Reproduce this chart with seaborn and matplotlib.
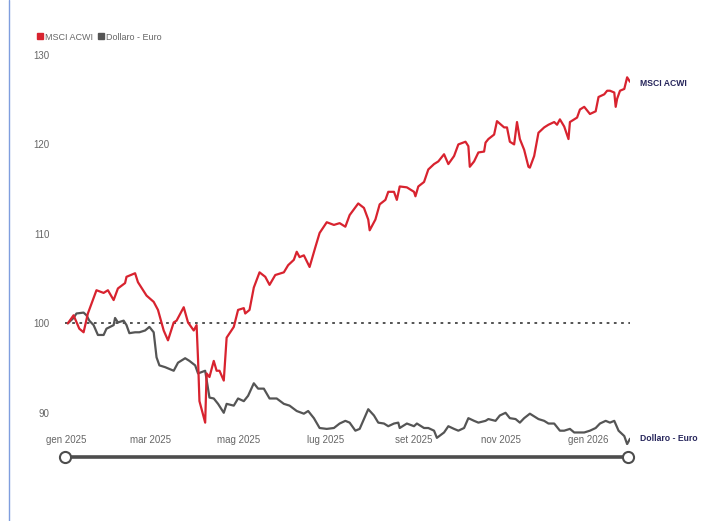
import pandas as pd
import numpy as np
import matplotlib.pyplot as plt
import seaborn as sns
from matplotlib.lines import Line2D

# MSCI ACWI (rebased to 100)
acwi_dates = [
    "2025-01-02", "2025-01-06", "2025-01-10", "2025-01-13", "2025-01-16", "2025-01-22",
    "2025-01-27", "2025-01-30", "2025-02-03", "2025-02-06", "2025-02-11", "2025-02-12",
    "2025-02-18", "2025-02-20", "2025-02-26", "2025-03-03", "2025-03-06", "2025-03-10",
    "2025-03-13", "2025-03-17", "2025-03-19", "2025-03-24", "2025-03-27", "2025-03-31",
    "2025-04-02", "2025-04-03", "2025-04-04", "2025-04-08", "2025-04-09", "2025-04-11",
    "2025-04-14", "2025-04-16", "2025-04-18", "2025-04-21", "2025-04-23", "2025-04-28",
    "2025-05-01", "2025-05-05", "2025-05-06", "2025-05-09", "2025-05-12", "2025-05-16",
    "2025-05-20", "2025-05-23", "2025-05-27", "2025-06-02", "2025-06-05", "2025-06-09",
    "2025-06-11", "2025-06-13", "2025-06-16", "2025-06-20", "2025-06-24", "2025-06-27",
    "2025-07-02", "2025-07-07", "2025-07-11", "2025-07-15", "2025-07-18", "2025-07-24",
    "2025-07-28", "2025-07-31", "2025-08-01", "2025-08-05", "2025-08-08", "2025-08-12",
    "2025-08-14", "2025-08-18", "2025-08-20", "2025-08-22", "2025-08-27", "2025-09-01",
    "2025-09-02", "2025-09-04", "2025-09-08", "2025-09-11", "2025-09-15", "2025-09-18",
    "2025-09-22", "2025-09-25", "2025-09-29", "2025-10-02", "2025-10-07", "2025-10-09",
    "2025-10-10", "2025-10-13", "2025-10-16", "2025-10-20", "2025-10-21", "2025-10-23",
    "2025-10-27", "2025-10-29", "2025-11-03", "2025-11-05", "2025-11-07", "2025-11-10",
    "2025-11-12", "2025-11-14", "2025-11-17", "2025-11-20", "2025-11-21", "2025-11-24",
    "2025-11-27", "2025-12-01", "2025-12-04", "2025-12-08", "2025-12-10", "2025-12-12",
    "2025-12-15", "2025-12-18", "2025-12-19", "2025-12-24", "2025-12-26", "2025-12-29",
    "2026-01-02", "2026-01-06", "2026-01-08", "2026-01-12", "2026-01-14", "2026-01-16",
    "2026-01-19", "2026-01-20", "2026-01-21", "2026-01-23", "2026-01-26", "2026-01-28",
    "2026-01-30",
]
acwi_values = [
    100.0, 100.9, 99.4, 99.0, 101.1, 103.7,
    103.4, 103.7, 102.6, 103.9, 104.5, 105.2,
    105.6, 104.6, 103.1, 102.4, 101.5, 99.2,
    98.1, 100.1, 100.3, 101.8, 100.1, 99.2,
    99.8, 96.0, 91.3, 88.9, 94.4, 94.0,
    95.8, 94.7, 94.7, 93.6, 98.4, 99.6,
    101.5, 101.7, 101.1, 101.5, 104.0, 105.7,
    105.2, 104.3, 105.4, 105.7, 106.5, 107.1,
    108.0, 107.4, 107.6, 106.3, 108.5, 110.1,
    111.3, 111.0, 111.2, 110.8, 112.1, 113.4,
    112.9, 111.6, 110.4, 111.6, 113.3, 113.8,
    114.7, 114.7, 113.8, 115.3, 115.2, 114.7,
    114.2, 115.3, 115.8, 117.2, 117.8, 118.1,
    118.9, 117.8, 118.7, 120.0, 120.3, 119.8,
    117.5, 118.1, 119.1, 119.2, 120.2, 120.6,
    121.1, 122.6, 121.9, 121.9, 120.3, 120.0,
    122.5, 120.6, 119.4, 117.5, 117.4, 118.7,
    121.3, 121.9, 122.2, 122.5, 122.2, 122.8,
    122.0, 120.6, 122.5, 123.0, 123.9, 124.2,
    123.4, 123.7, 125.3, 125.6, 126.0, 126.0,
    125.8, 124.2, 125.1, 126.0, 126.2, 127.5,
    127.0,
]

# Dollaro - Euro (rebased to 100)
usd_dates = [
    "2025-01-02", "2025-01-06", "2025-01-08", "2025-01-13", "2025-01-15", "2025-01-17",
    "2025-01-20", "2025-01-23", "2025-01-27", "2025-01-29", "2025-02-03", "2025-02-04",
    "2025-02-06", "2025-02-10", "2025-02-12", "2025-02-14", "2025-02-18", "2025-02-21",
    "2025-02-25", "2025-02-28", "2025-03-03", "2025-03-05", "2025-03-07", "2025-03-11",
    "2025-03-17", "2025-03-20", "2025-03-25", "2025-03-28", "2025-04-01", "2025-04-03",
    "2025-04-08", "2025-04-11", "2025-04-14", "2025-04-17", "2025-04-21", "2025-04-23",
    "2025-04-28", "2025-05-01", "2025-05-05", "2025-05-08", "2025-05-12", "2025-05-15",
    "2025-05-19", "2025-05-23", "2025-05-28", "2025-06-02", "2025-06-06", "2025-06-11",
    "2025-06-16", "2025-06-19", "2025-06-23", "2025-06-27", "2025-07-02", "2025-07-07",
    "2025-07-11", "2025-07-15", "2025-07-18", "2025-07-22", "2025-07-25", "2025-07-31",
    "2025-08-04", "2025-08-07", "2025-08-11", "2025-08-14", "2025-08-18", "2025-08-21",
    "2025-08-22", "2025-08-27", "2025-09-01", "2025-09-03", "2025-09-08", "2025-09-11",
    "2025-09-15", "2025-09-17", "2025-09-22", "2025-09-25", "2025-09-29", "2025-10-02",
    "2025-10-06", "2025-10-09", "2025-10-13", "2025-10-16", "2025-10-21", "2025-10-23",
    "2025-10-28", "2025-10-31", "2025-11-04", "2025-11-07", "2025-11-11", "2025-11-14",
    "2025-11-17", "2025-11-21", "2025-11-27", "2025-12-01", "2025-12-04", "2025-12-08",
    "2025-12-12", "2025-12-15", "2025-12-19", "2025-12-22", "2025-12-29", "2026-01-02",
    "2026-01-06", "2026-01-09", "2026-01-13", "2026-01-16", "2026-01-19", "2026-01-22",
    "2026-01-26", "2026-01-28", "2026-01-30",
]
usd_values = [
    100.0, 100.6, 101.1, 101.2, 100.9, 100.3,
    99.8, 98.7, 98.7, 99.4, 99.8, 100.6,
    100.1, 100.3, 99.8, 98.9, 99.0, 99.0,
    99.2, 99.6, 99.0, 96.2, 95.3, 95.1,
    94.7, 95.6, 96.1, 95.8, 95.3, 94.4,
    94.7, 91.7, 91.6, 91.0, 90.0, 91.0,
    90.8, 91.6, 91.3, 91.9, 93.3, 92.7,
    92.7, 91.6, 91.6, 91.0, 90.8, 90.2,
    89.9, 90.2, 89.4, 88.3, 88.2, 88.3,
    88.8, 89.1, 88.9, 88.0, 88.2, 90.4,
    89.7, 88.9, 88.8, 88.5, 88.8, 88.9,
    88.3, 88.8, 88.5, 88.8, 88.3, 88.3,
    88.0, 87.2, 87.8, 88.5, 88.2, 88.0,
    88.3, 89.4, 89.1, 88.9, 89.1, 89.3,
    89.1, 89.7, 90.0, 89.4, 89.3, 88.9,
    89.4, 89.9, 89.3, 89.1, 88.8, 88.8,
    88.0, 88.0, 88.2, 87.8, 87.8, 88.0,
    88.3, 88.8, 89.1, 88.9, 89.1, 88.0,
    87.4, 86.5, 87.1,
]

tick_dates = ["2025-01-01", "2025-03-01", "2025-05-01", "2025-07-01",
              "2025-09-01", "2025-11-01", "2026-01-01"]
tick_labels = ["gen 2025", "mar 2025", "mag 2025", "lug 2025",
               "set 2025", "nov 2025", "gen 2026"]
y_ticks = [90, 100, 110, 120, 130]

red = "#d8232f"
grey = "#555555"
navy = "#27265c"

acwi = pd.DataFrame({"date": pd.to_datetime(acwi_dates), "value": acwi_values})
usd = pd.DataFrame({"date": pd.to_datetime(usd_dates), "value": usd_values})

sns.set_style("white")
plt.rcParams["font.family"] = ["Liberation Sans", "DejaVu Sans"]

fig = plt.figure(figsize=(7.02, 5.21), dpi=100)
ax = fig.add_axes([65 / 702, 1 - 445 / 521, 565 / 702, 399 / 521])

ax.axhline(100, color="#444444", lw=1.3, ls=(0, (1.5, 2.5)), zorder=1)
sns.lineplot(data=usd, x="date", y="value", ax=ax, color=grey, lw=1.6, zorder=2)
sns.lineplot(data=acwi, x="date", y="value", ax=ax, color=red, lw=1.6, zorder=3)

ax.set_xlim(pd.Timestamp("2024-12-31"), pd.Timestamp("2026-01-30"))
ax.set_ylim(86.4, 131)
ax.set_xlabel("")
ax.set_ylabel("")
ax.set_yticks(y_ticks)
ax.set_yticklabels([str(v) for v in y_ticks])
ax.set_xticks(pd.to_datetime(tick_dates))
ax.set_xticklabels(tick_labels)
ax.tick_params(axis="y", length=0, pad=11, labelsize=7, labelcolor="#666666")
ax.tick_params(axis="x", length=0, pad=-7, labelsize=7, labelcolor="#666666")
for s in ax.spines.values():
    s.set_visible(False)

# end-of-line labels
ax.annotate("MSCI ACWI", xy=(acwi["date"].iloc[-1], acwi["value"].iloc[-1]),
            xytext=(7, -1), textcoords="offset points", fontsize=6.2,
            fontweight="bold", color=navy, va="center", annotation_clip=False)
ax.annotate("Dollaro - Euro", xy=(usd["date"].iloc[-1], usd["value"].iloc[-1]),
            xytext=(7, 0), textcoords="offset points", fontsize=6.2,
            fontweight="bold", color=navy, va="center", annotation_clip=False)

# legend
handles = [Line2D([], [], marker="s", ls="", color=red, markersize=4),
           Line2D([], [], marker="s", ls="", color=grey, markersize=4)]
fig.legend(handles, ["MSCI ACWI", "Dollaro - Euro"], loc="upper left",
           bbox_to_anchor=(32 / 702, 1 - 29 / 521), ncol=2, frameon=False,
           fontsize=6.5, labelcolor="#666666", handletextpad=0.1,
           columnspacing=0.5, handlelength=0.9, borderaxespad=0)

# navigator slider
ys = 1 - 457 / 521
fig.add_artist(Line2D([65 / 702, 628 / 702], [ys, ys], color="#4d4d4d", lw=2.6,
                      transform=fig.transFigure, solid_capstyle="butt"))
for xs in [65 / 702, 628 / 702]:
    fig.add_artist(Line2D([xs], [ys], marker="o", markersize=8, color="#4d4d4d",
                          markerfacecolor="white", markeredgewidth=1.5,
                          transform=fig.transFigure))

# page border on the left
fig.add_artist(Line2D([8.5 / 702, 8.5 / 702], [0, 1], color="#7f9ede", lw=1.0,
                      transform=fig.transFigure))

fig.savefig("out.png", dpi=100)
